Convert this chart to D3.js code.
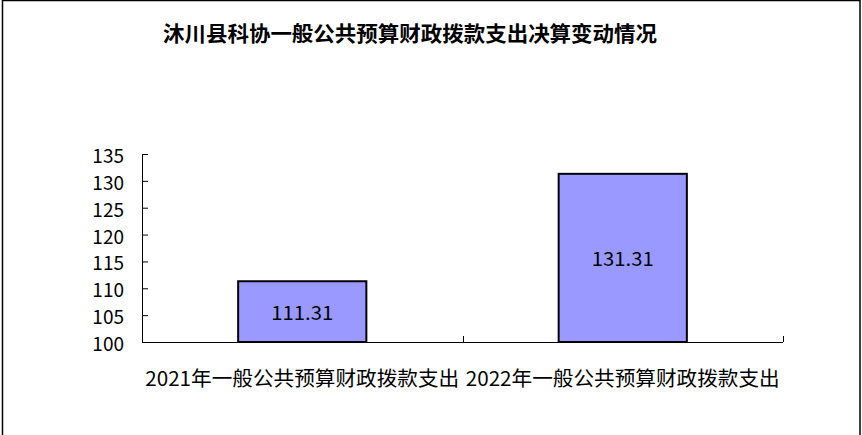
<!DOCTYPE html>
<html lang="zh">
<head>
<meta charset="UTF-8">
<title>沐川县科协一般公共预算财政拨款支出决算变动情况</title>
<style>
	* { margin: 0; padding: 0; }
	body { background: #fff; }
	svg { display: block; }
	text { font-family: "Noto Sans CJK SC", "DejaVu Sans", sans-serif; fill: #000; }
</style>
</head>
<body>
<script src="https://cdn.jsdelivr.net/npm/d3@7/dist/d3.min.js"></script>
<script>
	var title = '沐川县科协一般公共预算财政拨款支出决算变动情况';
	var categories = ['2021年一般公共预算财政拨款支出', '2022年一般公共预算财政拨款支出'];
	var values = [111.31, 131.31];
	var yTicks = [100, 105, 110, 115, 120, 125, 130, 135];

	var W = 862, H = 435;
	// plot area in pixels (note: "top" is reserved on window, so use plot*)
	var plotLeft = 142, plotRight = 783, plotTop = 154, plotBottom = 342;

	var svg = d3.select('body').append('svg').attr('width', W).attr('height', H);

	// outer frame
	svg.append('rect')
		.attr('x', 2.5).attr('y', 0.5)
		.attr('width', 857.5).attr('height', H + 10)
		.attr('fill', 'none').attr('stroke', '#000').attr('stroke-width', 1.5);

	svg.append('text')
		.attr('x', 410).attr('y', 32)
		.attr('text-anchor', 'middle').attr('dominant-baseline', 'central')
		.attr('textLength', 494).attr('lengthAdjust', 'spacingAndGlyphs')
		.style('font-size', '21px').style('font-weight', 'bold')
		.text(title);

	var x = d3.scaleBand().domain(categories).range([plotLeft, plotRight]).paddingInner(0.6).paddingOuter(0.3);
	var y = d3.scaleLinear().domain([100, 135]).range([plotBottom, plotTop]);

	// y axis
	var yAxis = svg.append('g')
		.attr('transform', 'translate(' + plotLeft + ',0)')
		.call(d3.axisRight(y).tickValues(yTicks).tickSize(6).tickFormat(''));
	yAxis.select('.domain').attr('stroke', '#000').attr('d', 'M0.5,' + plotTop + 'V' + plotBottom);
	yAxis.selectAll('.tick line').attr('stroke', '#000');

	svg.append('g').selectAll('text.ylab')
		.data(yTicks)
		.enter().append('text')
		.attr('x', plotLeft - 18)
		.attr('y', function (d) { return y(d) + 0.5; })
		.attr('text-anchor', 'end').attr('dominant-baseline', 'central')
		.style('font-size', '19px')
		.text(function (d) { return d; });

	// x axis: ticks between categories
	var step = x.step();
	var bounds = d3.range(categories.length + 1).map(function (i) { return plotLeft + i * step; });
	svg.append('line')
		.attr('x1', plotLeft).attr('x2', plotRight)
		.attr('y1', plotBottom + 0.5).attr('y2', plotBottom + 0.5)
		.attr('stroke', '#000');
	svg.selectAll('line.xtick')
		.data(bounds.slice(1))
		.enter().append('line')
		.attr('x1', function (d) { return Math.round(d) + 0.5; })
		.attr('x2', function (d) { return Math.round(d) + 0.5; })
		.attr('y1', plotBottom).attr('y2', plotBottom - 6)
		.attr('stroke', '#000');

	svg.selectAll('text.xlab')
		.data(categories)
		.enter().append('text')
		.attr('x', function (d) { return x(d) + x.bandwidth() / 2; })
		.attr('y', 377)
		.attr('text-anchor', 'middle').attr('dominant-baseline', 'central')
		.attr('textLength', 314).attr('lengthAdjust', 'spacingAndGlyphs')
		.style('font-size', '20px')
		.text(function (d) { return d; });

	// bars
	svg.selectAll('rect.bar')
		.data(values)
		.enter().append('rect')
		.attr('x', function (d, i) { return x(categories[i]); })
		.attr('y', function (d) { return y(d); })
		.attr('width', x.bandwidth())
		.attr('height', function (d) { return plotBottom - y(d); })
		.attr('fill', '#9999ff').attr('stroke', '#000').attr('stroke-width', 2);

	svg.selectAll('text.val')
		.data(values)
		.enter().append('text')
		.attr('x', function (d, i) { return x(categories[i]) + x.bandwidth() / 2; })
		.attr('y', function (d) { return (y(d) + plotBottom) / 2; })
		.attr('text-anchor', 'middle').attr('dominant-baseline', 'central')
		.attr('textLength', 62).attr('lengthAdjust', 'spacingAndGlyphs')
		.style('font-size', '19px')
		.text(function (d) { return d.toFixed(2); });
</script>
</body>
</html>
